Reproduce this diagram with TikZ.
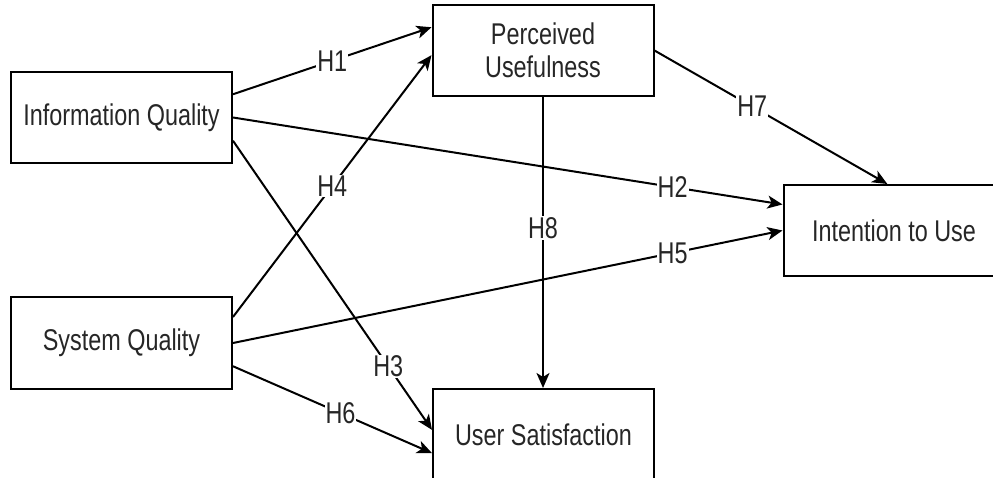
\documentclass[tikz,border=0pt]{standalone}
\usepackage{fontspec}
\setmainfont{Liberation Sans}[FakeStretch=0.78]
\usetikzlibrary{arrows.meta,calc}
\begin{document}
\begin{tikzpicture}[x=1pt,y=-1pt,
  box/.style={draw=black, line width=2pt, minimum width=221pt, minimum height=91pt,
    inner sep=0pt, font=\fontsize{30}{33}\selectfont, text=black!85, align=center},
  link/.style={line width=2pt, -{Stealth[length=15pt,width=13pt,inset=4pt]}},
  lab/.style={fill=white, inner sep=1pt, font=\fontsize{30}{33}\selectfont, text=black!85}]
\path[use as bounding box] (0,0) rectangle (993,478);
\clip (0,0) rectangle (993,478);
\node[box] (iq) at (121.5,117.5) {Information Quality};
\node[box] (sq) at (121.5,343) {System Quality};
\node[box] (pu) at (543,50.5) {Perceived\\Usefulness};
\node[box] (us) at (543.5,434.5) {User Satisfaction};
\node[box] (itu) at (894,230.5) {Intention to Use};
% H1
\draw[link] ($(iq.north east)!0.25!(iq.south east)$) -- node[lab,pos=0.5] (h1) {H1} ($(pu.north west)!0.25!(pu.south west)$);
% H4
\draw[link] ($(sq.north east)!0.22!(sq.south east)$) -- node[lab,pos=0.5] (h4) {H4} ($(pu.north west)!0.55!(pu.south west)$);
% H2
\draw[link] (iq.east) -- node[lab,pos=0.8] (h2) {H2} ($(itu.north west)!0.22!(itu.south west)$);
% H5
\draw[link] (sq.east) -- node[lab,pos=0.8] (h5) {H5} (itu.west);
% H3
\draw[link] ($(iq.north east)!0.75!(iq.south east)$) -- node[lab,pos=0.78] (h3) {H3} ($(us.north west)!0.45!(us.south west)$);
% H6
\draw[link] ($(sq.north east)!0.75!(sq.south east)$) -- node[lab,pos=0.54] (h6) {H6} ($(us.north west)!0.70!(us.south west)$);
% H7
\draw[link] (pu.east) -- node[lab,pos=0.42] (h7) {H7} ($(itu.north west)!0.47!(itu.north east)$);
% H8
\draw[link] (pu.south) -- node[lab,pos=0.45] (h8) {H8} (pu.south |- us.north);
\end{tikzpicture}
\end{document}
